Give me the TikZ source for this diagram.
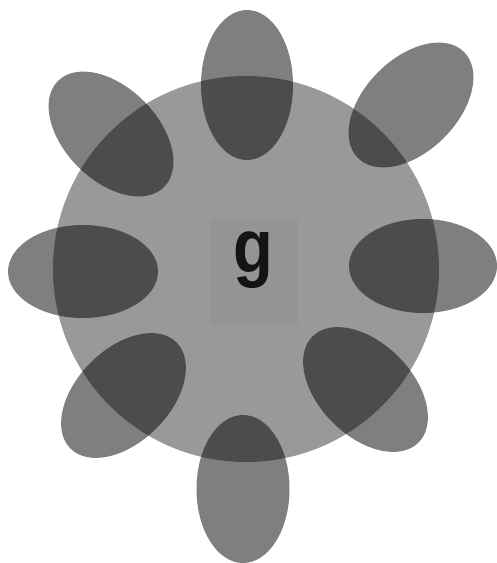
\documentclass[tikz,border=0pt]{standalone}
\usepackage{fontspec}
\setmainfont{Liberation Sans}
\tikzset{
  lobe/.style={fill=black, fill opacity=0.5},
  core/.style={fill=black, fill opacity=0.4},
}
\begin{document}
\begin{tikzpicture}[x=1bp, y=-1bp]
  \useasboundingbox (0,0) rectangle (497,563);
  % esfera central
  \fill[core] (246,269) circle [radius=193];
  \node[fill=black, fill opacity=0.035, minimum width=87bp, minimum height=106bp, inner sep=0pt] (box) at (254,271.5) {};
  % lobulos en los ejes
  \fill[lobe] (247,85) ellipse [x radius=46, y radius=75];
  \fill[lobe] (243,489) ellipse [x radius=46.5, y radius=74];
  \fill[lobe] (83,271.5) ellipse [x radius=75, y radius=46.5];
  \fill[lobe] (423,266) ellipse [x radius=74, y radius=47];
  % lobulos diagonales
  \fill[lobe, rotate around={-45:(111,134)}] (111,134) ellipse [x radius=75, y radius=46.5];
  \fill[lobe, rotate around={45:(411,105)}] (411,105) ellipse [x radius=75, y radius=46.5];
  \fill[lobe, rotate around={45:(123.5,395.5)}] (123.5,395.5) ellipse [x radius=75, y radius=46.5];
  \fill[lobe, rotate around={-45:(365.5,389.5)}] (365.5,389.5) ellipse [x radius=75, y radius=46.5];
  % etiqueta
  \node[font=\fontsize{76}{76}\selectfont\bfseries, text=black!92, anchor=base, inner sep=0pt] (g) at (253,272) {\scalebox{0.86}[1]{g}};
\end{tikzpicture}
\end{document}
